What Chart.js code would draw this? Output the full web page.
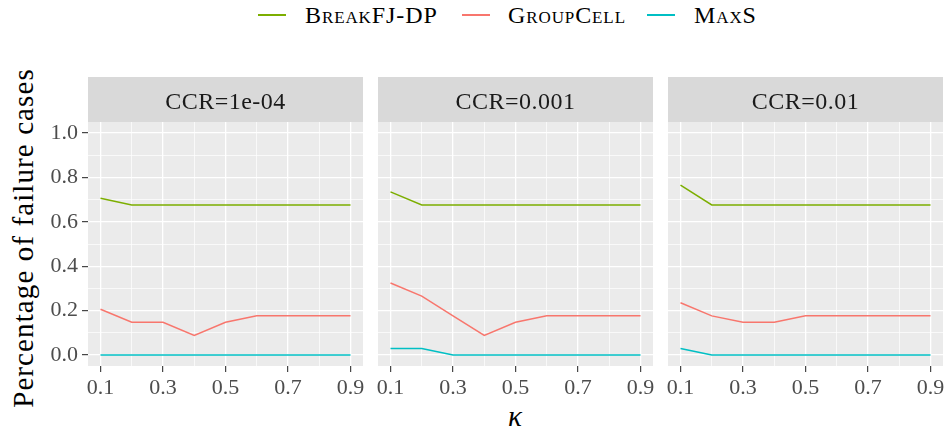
<!DOCTYPE html>
<html>
<head>
<meta charset="utf-8">
<script src="https://cdn.jsdelivr.net/npm/chart.js@4"></script>
<style>
  html, body { margin: 0; padding: 0; background: #fff; overflow: hidden; }
  body { width: 950px; height: 436px; position: relative; font-family: 'Liberation Serif', 'DejaVu Serif', serif; }
  canvas { position: absolute; top: 77px; }
  .key { position: absolute; top: 14px; width: 28px; height: 1.5px; }
  .lab { position: absolute; top: 0; line-height: 30px; font-size: 24px; font-variant: small-caps; color: #000; white-space: nowrap; letter-spacing: 0.9px; }
  #ytitle { position: absolute; left: 23px; top: 238px; transform: translate(-50%, -50%) rotate(-90deg); font-size: 29px; white-space: nowrap; letter-spacing: 1.1px; color: #000; }
  #xtitle { position: absolute; left: 515px; top: 400px; transform: translateX(-50%); font-size: 29px; font-style: italic; color: #000; }
</style>
</head>
<body>
<div class="key" style="left:258px;background:#7CAE00"></div>
<div class="lab" style="left:305px">BreakFJ-DP</div>
<div class="key" style="left:462px;background:#F8766D"></div>
<div class="lab" style="left:508px">GroupCell</div>
<div class="key" style="left:647px;background:#00BFC4"></div>
<div class="lab" style="left:694px">MaxS</div>
<div id="ytitle">Percentage of failure cases</div>
<div id="xtitle">κ</div>

<canvas id="p1" width="378" height="359" style="left:0px"></canvas>
<canvas id="p2" width="305" height="359" style="left:363px"></canvas>
<canvas id="p3" width="297" height="359" style="left:653px"></canvas>

<script>
// facet labels and x values
const ccrLabels = ["CCR=1e-04", "CCR=0.001", "CCR=0.01"];
const kappa = [0.1, 0.2, 0.3, 0.4, 0.5, 0.6, 0.7, 0.8, 0.9];
const xTicks = [0.1, 0.2, 0.3, 0.4, 0.5, 0.6, 0.7, 0.8, 0.9];
const yTicks = [0, 0.1, 0.2, 0.3, 0.4, 0.5, 0.6, 0.7, 0.8, 0.9, 1.0];

// CCR=1e-04
const breakFjDp1 = [0.706, 0.676, 0.676, 0.676, 0.676, 0.676, 0.676, 0.676, 0.676];
const groupCell1 = [0.206, 0.147, 0.147, 0.088, 0.147, 0.176, 0.176, 0.176, 0.176];
const maxS1 = [0, 0, 0, 0, 0, 0, 0, 0, 0];
// CCR=0.001
const breakFjDp2 = [0.735, 0.676, 0.676, 0.676, 0.676, 0.676, 0.676, 0.676, 0.676];
const groupCell2 = [0.324, 0.265, 0.176, 0.088, 0.147, 0.176, 0.176, 0.176, 0.176];
const maxS2 = [0.029, 0.029, 0, 0, 0, 0, 0, 0, 0];
// CCR=0.01
const breakFjDp3 = [0.765, 0.676, 0.676, 0.676, 0.676, 0.676, 0.676, 0.676, 0.676];
const groupCell3 = [0.235, 0.176, 0.147, 0.147, 0.176, 0.176, 0.176, 0.176, 0.176];
const maxS3 = [0.029, 0, 0, 0, 0, 0, 0, 0, 0];

const FONT = "'Liberation Serif', 'DejaVu Serif', serif";
const colors = { breakFj: "#7CAE00", group: "#F8766D", maxS: "#00BFC4" };

function isMajor(v, step) {
    return Math.abs(Math.round(v / step) * step - v) < 1e-6;
}

const stripPlugin = {
    id: "strip",
    beforeDraw: (chart, args, opts) => {
        const ctx = chart.ctx;
        const a = chart.chartArea;
        ctx.save();
        ctx.fillStyle = "#EBEBEB";
        ctx.fillRect(a.left, a.top, a.right - a.left, a.bottom - a.top);
        ctx.fillStyle = "#D9D9D9";
        ctx.fillRect(a.left, 0, a.right - a.left, a.top);
        ctx.fillStyle = "#1A1A1A";
        ctx.font = "24px " + FONT;
        ctx.letterSpacing = "0.5px";
        ctx.textAlign = "center";
        ctx.textBaseline = "alphabetic";
        ctx.fillText(opts.text, (a.left + a.right) / 2, 32);
        ctx.restore();
    },
};

function toPoints(values) {
    return values.map((v, i) => ({ x: kappa[i], y: v }));
}

function makePanel(id, idx, series, showY, padLeft, padRight) {
    const ctx = document.getElementById(id).getContext("2d");
    return new Chart(ctx, {
        type: "line",
        data: {
            datasets: [
                { label: "BreakFJ-DP", data: toPoints(series[0]), borderColor: colors.breakFj },
                { label: "GroupCell", data: toPoints(series[1]), borderColor: colors.group },
                { label: "MaxS", data: toPoints(series[2]), borderColor: colors.maxS },
            ].map((d) => Object.assign(d, { borderWidth: 1.5, pointRadius: 0, tension: 0, fill: false })),
        },
        options: {
            responsive: false,
            animation: false,
            devicePixelRatio: 1,
            layout: { padding: { top: 45, left: padLeft, right: padRight, bottom: 30 } },
            plugins: {
                legend: { display: false },
                tooltip: { enabled: false },
                strip: { text: ccrLabels[idx] },
            },
            scales: {
                x: {
                    type: "linear",
                    min: 0.06,
                    max: 0.94,
                    afterBuildTicks: (scale) => {
                        scale.ticks = xTicks.map((v) => ({ value: v }));
                    },
                    afterFit: (scale) => { scale.height = 40; },
                    border: { display: false },
                    grid: {
                        color: "#FFFFFF",
                        lineWidth: (c) => (isMajor(c.tick.value - 0.1, 0.2) ? 1.3 : 0.7),
                        tickColor: (c) => (isMajor(c.tick.value - 0.1, 0.2) ? "#333333" : "rgba(0,0,0,0)"),
                        tickLength: 6,
                        tickWidth: 1.1,
                    },
                    ticks: {
                        autoSkip: false,
                        maxRotation: 0,
                        padding: 3,
                        color: "#4D4D4D",
                        font: { family: FONT, size: 22 },
                        callback: (v) => (isMajor(v - 0.1, 0.2) ? v.toFixed(1) : ""),
                    },
                },
                y: {
                    type: "linear",
                    min: -0.05,
                    max: 1.05,
                    afterBuildTicks: (scale) => {
                        scale.ticks = yTicks.map((v) => ({ value: v }));
                    },
                    afterFit: (scale) => { scale.width = showY ? 88 : 0; },
                    border: { display: false },
                    grid: {
                        color: "#FFFFFF",
                        lineWidth: (c) => (isMajor(c.tick.value, 0.2) ? 1.3 : 0.7),
                        tickColor: (c) => (isMajor(c.tick.value, 0.2) ? "#333333" : "rgba(0,0,0,0)"),
                        drawTicks: showY,
                        tickLength: 6,
                        tickWidth: 1.1,
                    },
                    ticks: {
                        display: showY,
                        autoSkip: false,
                        padding: 4,
                        color: "#4D4D4D",
                        font: { family: FONT, size: 22 },
                        callback: (v) => (isMajor(v, 0.2) ? v.toFixed(1) : ""),
                    },
                },
            },
        },
        plugins: [stripPlugin],
    });
}

makePanel("p1", 0, [breakFjDp1, groupCell1, maxS1], true, 0, 15);
makePanel("p2", 1, [breakFjDp2, groupCell2, maxS2], false, 15, 15);
makePanel("p3", 2, [breakFjDp3, groupCell3, maxS3], false, 15, 7);
</script>
</body>
</html>
